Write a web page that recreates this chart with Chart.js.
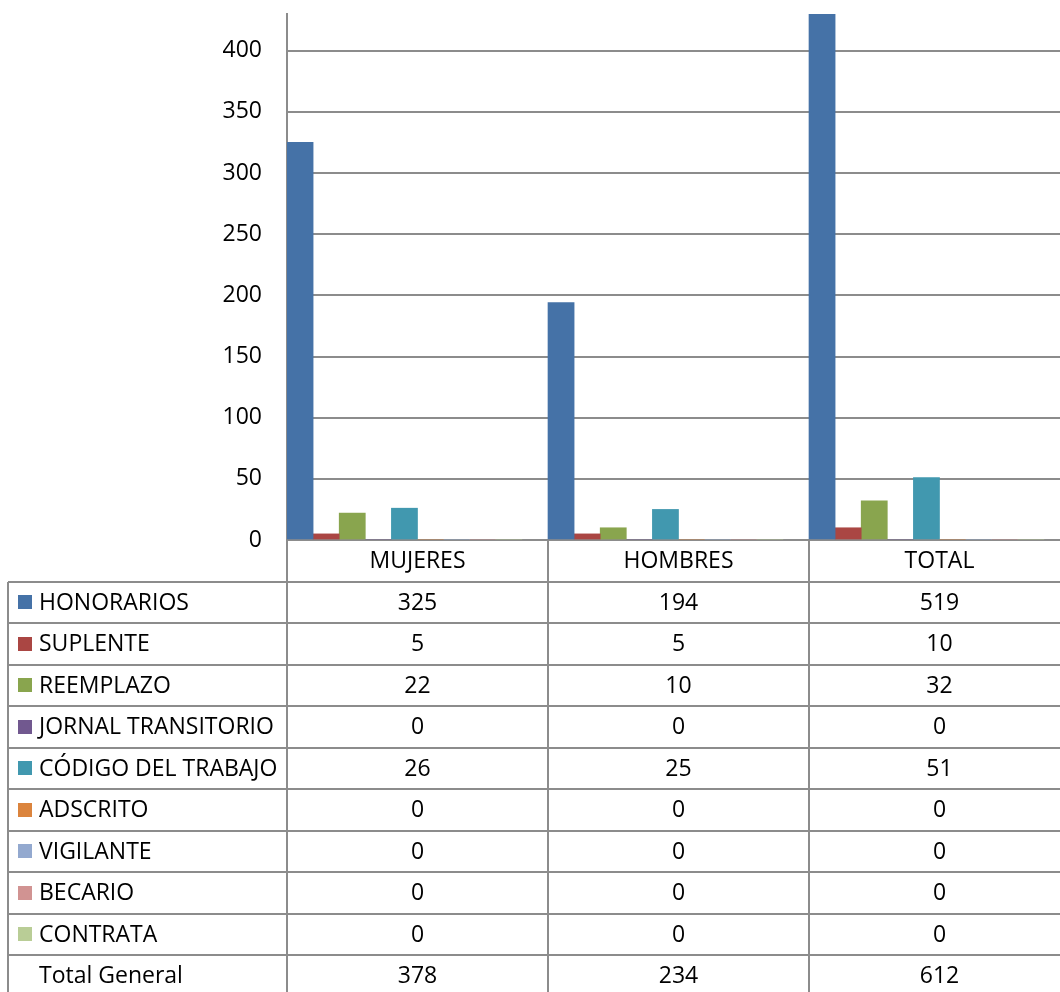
<!DOCTYPE html>
<html>
<head>
<meta charset="utf-8">
<script src="https://cdn.jsdelivr.net/npm/chart.js@4.4.0/dist/chart.umd.min.js"></script>
<style>
html,body{margin:0;padding:0;overflow:hidden;background:#fff;width:1060px;height:992px}
#wrap{position:absolute;left:0;top:0;width:1070px;height:992px}
</style>
</head>
<body>
<div id="wrap"><canvas id="c" width="1070" height="992"></canvas></div>
<script>
// ---- data ----
const categories = ['MUJERES', 'HOMBRES', 'TOTAL'];
const seriesNames = ['HONORARIOS', 'SUPLENTE', 'REEMPLAZO', 'JORNAL TRANSITORIO', 'CÓDIGO DEL TRABAJO', 'ADSCRITO', 'VIGILANTE', 'BECARIO', 'CONTRATA', 'Total General'];
const honorarios = [325, 194, 519];
const suplente = [5, 5, 10];
const reemplazo = [22, 10, 32];
const jornalTransitorio = [0, 0, 0];
const codigoDelTrabajo = [26, 25, 51];
const adscrito = [0, 0, 0];
const vigilante = [0, 0, 0];
const becario = [0, 0, 0];
const contrata = [0, 0, 0];
const totalGeneral = [378, 234, 612];
const yTickValues = [0, 50, 100, 150, 200, 250, 300, 350, 400];
const yMax = 430;

const seriesValues = [honorarios, suplente, reemplazo, jornalTransitorio, codigoDelTrabajo, adscrito, vigilante, becario, contrata, totalGeneral];

// ---- styles ----
const seriesColors = ['#4572A7', '#AA4643', '#89A54E', '#71588F', '#4198AF', '#DB843D', '#93A9CF', '#D19392', '#B9CD96', null];
const LINE = '#8c8c8c';
const FONT_FAMILY = '"Open Sans"';
const FONT_SIZE = 23;
const FONT = FONT_SIZE + 'px ' + FONT_FAMILY;

const tablePlugin = {
  id: 'dataTable',
  afterDraw(chart) {
    const ctx = chart.ctx;
    const xs = chart.scales.x;
    const area = chart.chartArea;
    const top = area.bottom;
    const rowH = 41.5;
    const nRows = seriesNames.length;
    const bottomY = top + rowH * (nRows + 1);
    const tableLeft = 8;
    const half = (xs.getPixelForValue(1) - xs.getPixelForValue(0)) / 2;
    ctx.save();
    ctx.strokeStyle = LINE;
    ctx.lineWidth = 2;
    const line = (x1, y1, x2, y2) => { ctx.beginPath(); ctx.moveTo(x1, y1); ctx.lineTo(x2, y2); ctx.stroke(); };
    for (let r = 1; r <= nRows; r++) {
      const yy = Math.round(top + rowH * r);
      line(tableLeft, yy, area.right, yy);
    }
    line(tableLeft, Math.round(top + rowH), tableLeft, bottomY);
    for (let i = 0; i <= categories.length; i++) {
      const xx = Math.round(xs.getPixelForValue(Math.min(i, categories.length - 1)) + (i === categories.length ? half : -half));
      line(xx, top, xx, bottomY);
    }
    ctx.fillStyle = '#000';
    ctx.font = FONT;
    ctx.textBaseline = 'middle';
    ctx.textAlign = 'center';
    categories.forEach((c, i) => {
      ctx.fillText(c, xs.getPixelForValue(i), top + rowH / 2 + 1);
    });
    seriesNames.forEach((name, r) => {
      const cy = top + rowH * (r + 1) + rowH / 2 + 1;
      if (seriesColors[r]) {
        ctx.fillStyle = seriesColors[r];
        ctx.fillRect(18, Math.round(cy - 8), 14, 14);
      }
      ctx.fillStyle = '#000';
      ctx.textAlign = 'left';
      ctx.fillText(name, 39, cy);
      ctx.textAlign = 'center';
      seriesValues[r].forEach((v, i) => {
        ctx.fillText(String(v), xs.getPixelForValue(i), cy);
      });
    });
    ctx.restore();
  }
};

const datasets = seriesNames.map((name, i) => ({
  label: name,
  data: seriesValues[i],
  backgroundColor: seriesColors[i] || 'rgba(0,0,0,0)',
  borderWidth: 0,
  categoryPercentage: 1.0,
  barPercentage: 1.0
}));

new Chart(document.getElementById('c'), {
  type: 'bar',
  data: { labels: categories, datasets },
  options: {
    responsive: false,
    animation: false,
    devicePixelRatio: 1,
    layout: { padding: { top: 14, bottom: 452, left: 0, right: 0 } },
    plugins: { legend: { display: false }, tooltip: { enabled: false } },
    scales: {
      x: {
        ticks: { display: false },
        grid: { display: false, drawTicks: false },
        border: { display: true, color: LINE, width: 2 },
        afterFit(scale) { scale.height = 0; scale.paddingLeft = 0; scale.paddingRight = 0; }
      },
      y: {
        min: 0,
        max: yMax,
        ticks: { stepSize: 50, padding: 25, color: '#000', font: { family: FONT_FAMILY, size: FONT_SIZE } },
        afterBuildTicks(scale) { scale.ticks = yTickValues.map(v => ({ value: v })); },
        grid: { color: LINE, lineWidth: 2, drawTicks: false },
        border: { display: true, color: LINE, width: 2 },
        afterFit(scale) { scale.width = 287; scale.paddingTop = 0; scale.paddingBottom = 0; }
      }
    }
  },
  plugins: [tablePlugin]
});
</script>
</body>
</html>
